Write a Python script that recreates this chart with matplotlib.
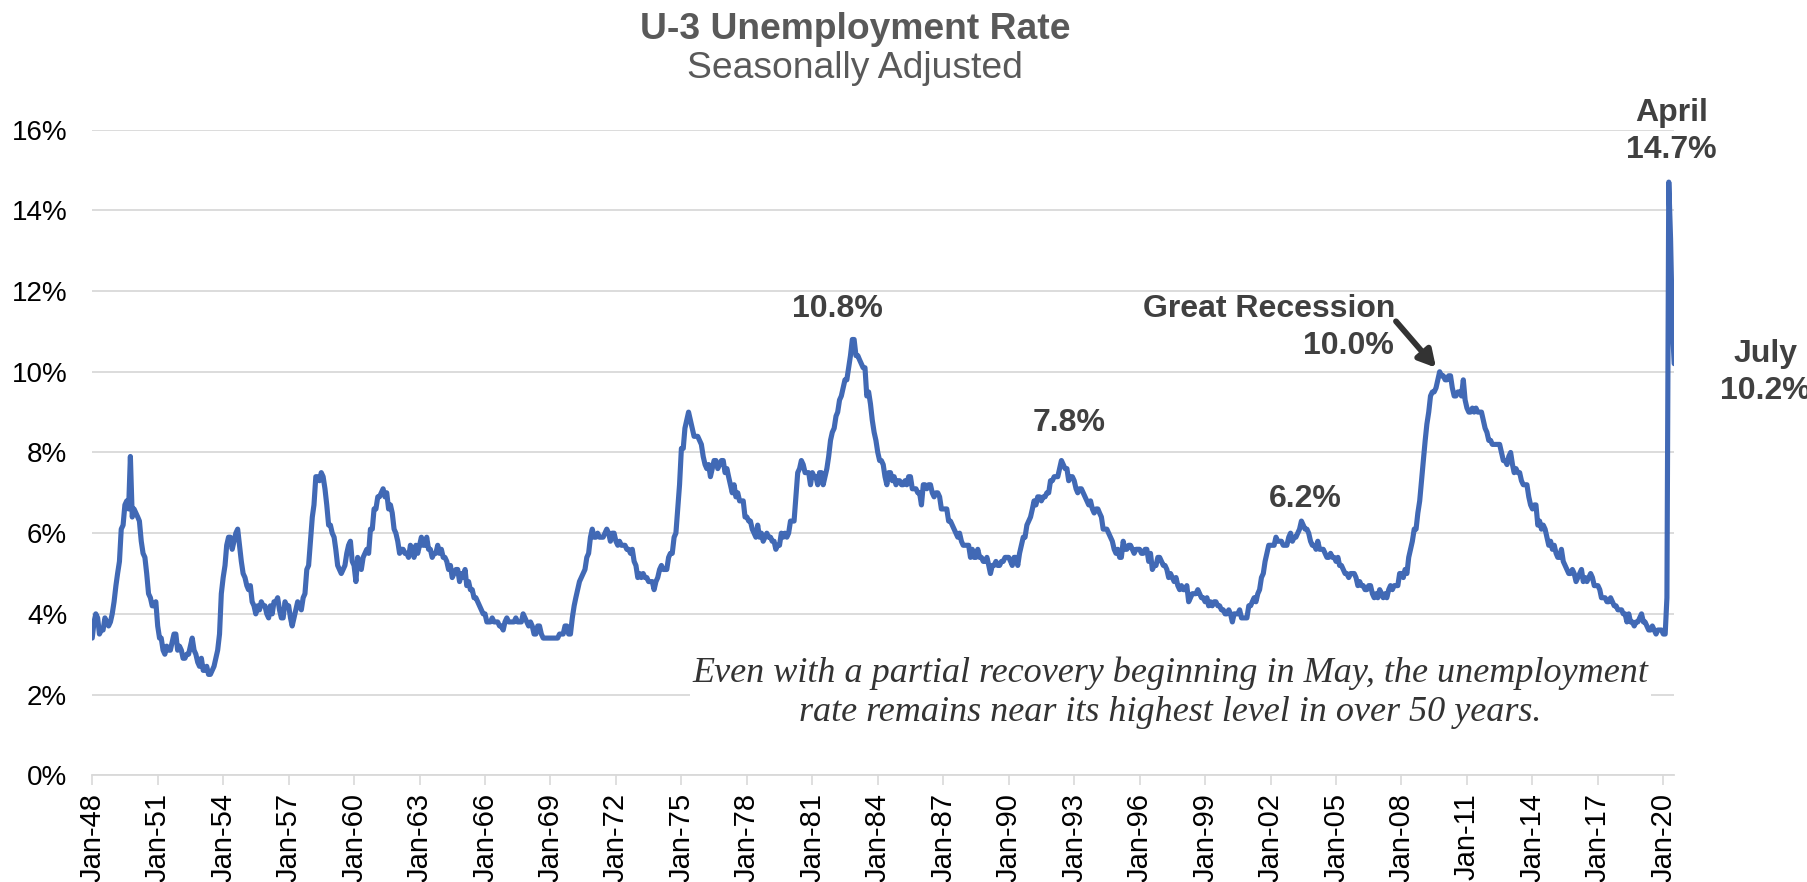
import matplotlib.pyplot as plt
import matplotlib.dates as mdates
import numpy as np
import pandas as pd

# monthly U-3 unemployment rate (%), seasonally adjusted, Jan 1948 - Jul 2020
rate_48_59 = [
    3.4, 3.8, 4.0, 3.9, 3.5, 3.6, 3.6, 3.9, 3.8, 3.7, 3.8, 4.0,
    4.3, 4.7, 5.0, 5.3, 6.1, 6.2, 6.7, 6.8, 6.6, 7.9, 6.4, 6.6,
    6.5, 6.4, 6.3, 5.8, 5.5, 5.4, 5.0, 4.5, 4.4, 4.2, 4.2, 4.3,
    3.7, 3.4, 3.4, 3.1, 3.0, 3.2, 3.1, 3.1, 3.3, 3.5, 3.5, 3.1,
    3.2, 3.1, 2.9, 2.9, 3.0, 3.0, 3.2, 3.4, 3.1, 3.0, 2.8, 2.7,
    2.9, 2.6, 2.6, 2.7, 2.5, 2.5, 2.6, 2.7, 2.9, 3.1, 3.5, 4.5,
    4.9, 5.2, 5.7, 5.9, 5.9, 5.6, 5.8, 6.0, 6.1, 5.7, 5.3, 5.0,
    4.9, 4.7, 4.6, 4.7, 4.3, 4.2, 4.0, 4.2, 4.1, 4.3, 4.2, 4.2,
    4.0, 3.9, 4.2, 4.0, 4.3, 4.3, 4.4, 4.1, 3.9, 3.9, 4.3, 4.2,
    4.2, 3.9, 3.7, 3.9, 4.1, 4.3, 4.2, 4.1, 4.4, 4.5, 5.1, 5.2,
    5.8, 6.4, 6.7, 7.4, 7.4, 7.3, 7.5, 7.4, 7.1, 6.7, 6.2, 6.2,
    6.0, 5.9, 5.6, 5.2, 5.1, 5.0, 5.1, 5.2, 5.5, 5.7, 5.8, 5.3,
]
rate_60_71 = [
    5.2, 4.8, 5.4, 5.2, 5.1, 5.4, 5.5, 5.6, 5.5, 6.1, 6.1, 6.6,
    6.6, 6.9, 6.9, 7.0, 7.1, 6.9, 7.0, 6.6, 6.7, 6.5, 6.1, 6.0,
    5.8, 5.5, 5.6, 5.6, 5.5, 5.5, 5.4, 5.7, 5.6, 5.4, 5.7, 5.5,
    5.7, 5.9, 5.7, 5.7, 5.9, 5.6, 5.6, 5.4, 5.5, 5.5, 5.7, 5.5,
    5.6, 5.4, 5.4, 5.3, 5.1, 5.2, 4.9, 5.0, 5.1, 5.1, 4.8, 5.0,
    4.9, 5.1, 4.7, 4.8, 4.6, 4.6, 4.4, 4.4, 4.3, 4.2, 4.1, 4.0,
    4.0, 3.8, 3.8, 3.8, 3.9, 3.8, 3.8, 3.8, 3.7, 3.7, 3.6, 3.8,
    3.9, 3.8, 3.8, 3.8, 3.8, 3.9, 3.8, 3.8, 3.8, 4.0, 3.9, 3.8,
    3.7, 3.8, 3.7, 3.5, 3.5, 3.7, 3.7, 3.5, 3.4, 3.4, 3.4, 3.4,
    3.4, 3.4, 3.4, 3.4, 3.4, 3.5, 3.5, 3.5, 3.7, 3.7, 3.5, 3.5,
    3.9, 4.2, 4.4, 4.6, 4.8, 4.9, 5.0, 5.1, 5.4, 5.5, 5.9, 6.1,
    5.9, 5.9, 6.0, 5.9, 5.9, 5.9, 6.0, 6.1, 6.0, 5.8, 6.0, 6.0,
]
rate_72_83 = [
    5.8, 5.7, 5.8, 5.7, 5.7, 5.7, 5.6, 5.6, 5.5, 5.6, 5.3, 5.2,
    4.9, 5.0, 4.9, 5.0, 4.9, 4.9, 4.8, 4.8, 4.8, 4.6, 4.8, 4.9,
    5.1, 5.2, 5.1, 5.1, 5.1, 5.4, 5.5, 5.5, 5.9, 6.0, 6.6, 7.2,
    8.1, 8.1, 8.6, 8.8, 9.0, 8.8, 8.6, 8.4, 8.4, 8.4, 8.3, 8.2,
    7.9, 7.7, 7.6, 7.7, 7.4, 7.6, 7.8, 7.8, 7.6, 7.7, 7.8, 7.8,
    7.5, 7.6, 7.4, 7.2, 7.0, 7.2, 6.9, 7.0, 6.8, 6.8, 6.8, 6.4,
    6.4, 6.3, 6.3, 6.1, 6.0, 5.9, 6.2, 5.9, 6.0, 5.8, 5.9, 6.0,
    5.9, 5.9, 5.8, 5.8, 5.6, 5.7, 5.7, 6.0, 5.9, 6.0, 5.9, 6.0,
    6.3, 6.3, 6.3, 6.9, 7.5, 7.6, 7.8, 7.7, 7.5, 7.5, 7.5, 7.2,
    7.5, 7.4, 7.4, 7.2, 7.5, 7.5, 7.2, 7.4, 7.6, 7.9, 8.3, 8.5,
    8.6, 8.9, 9.0, 9.3, 9.4, 9.6, 9.8, 9.8, 10.1, 10.4, 10.8, 10.8,
    10.4, 10.4, 10.3, 10.2, 10.1, 10.1, 9.4, 9.5, 9.2, 8.8, 8.5, 8.3,
]
rate_84_95 = [
    8.0, 7.8, 7.8, 7.7, 7.4, 7.2, 7.5, 7.5, 7.3, 7.4, 7.2, 7.3,
    7.3, 7.2, 7.2, 7.3, 7.2, 7.4, 7.4, 7.1, 7.1, 7.1, 7.0, 7.0,
    6.7, 7.2, 7.2, 7.1, 7.2, 7.2, 7.0, 6.9, 7.0, 7.0, 6.9, 6.6,
    6.6, 6.6, 6.6, 6.3, 6.3, 6.2, 6.1, 6.0, 5.9, 6.0, 5.8, 5.7,
    5.7, 5.7, 5.7, 5.4, 5.6, 5.4, 5.4, 5.6, 5.4, 5.4, 5.3, 5.3,
    5.4, 5.2, 5.0, 5.2, 5.2, 5.3, 5.2, 5.2, 5.3, 5.3, 5.4, 5.4,
    5.4, 5.3, 5.2, 5.4, 5.4, 5.2, 5.5, 5.7, 5.9, 5.9, 6.2, 6.3,
    6.4, 6.6, 6.8, 6.7, 6.9, 6.9, 6.8, 6.9, 6.9, 7.0, 7.0, 7.3,
    7.3, 7.4, 7.4, 7.4, 7.6, 7.8, 7.7, 7.6, 7.6, 7.3, 7.4, 7.4,
    7.3, 7.1, 7.0, 7.1, 7.1, 7.0, 6.9, 6.8, 6.7, 6.8, 6.6, 6.5,
    6.6, 6.6, 6.5, 6.4, 6.1, 6.1, 6.1, 6.0, 5.9, 5.8, 5.6, 5.5,
    5.6, 5.4, 5.4, 5.8, 5.6, 5.6, 5.7, 5.7, 5.6, 5.5, 5.6, 5.6,
]
rate_96_07 = [
    5.6, 5.5, 5.5, 5.6, 5.6, 5.3, 5.5, 5.1, 5.2, 5.2, 5.4, 5.4,
    5.3, 5.2, 5.2, 5.1, 4.9, 5.0, 4.9, 4.8, 4.9, 4.7, 4.6, 4.7,
    4.6, 4.6, 4.7, 4.3, 4.4, 4.5, 4.5, 4.5, 4.6, 4.5, 4.4, 4.4,
    4.3, 4.4, 4.2, 4.3, 4.2, 4.3, 4.3, 4.2, 4.2, 4.1, 4.1, 4.0,
    4.0, 4.1, 4.0, 3.8, 4.0, 4.0, 4.0, 4.1, 3.9, 3.9, 3.9, 3.9,
    4.2, 4.2, 4.3, 4.4, 4.3, 4.5, 4.6, 4.9, 5.0, 5.3, 5.5, 5.7,
    5.7, 5.7, 5.7, 5.9, 5.8, 5.8, 5.8, 5.7, 5.7, 5.7, 5.9, 6.0,
    5.8, 5.9, 5.9, 6.0, 6.1, 6.3, 6.2, 6.1, 6.1, 6.0, 5.8, 5.7,
    5.7, 5.6, 5.8, 5.6, 5.6, 5.6, 5.5, 5.4, 5.4, 5.5, 5.4, 5.4,
    5.3, 5.4, 5.2, 5.2, 5.1, 5.0, 5.0, 4.9, 5.0, 5.0, 5.0, 4.9,
    4.7, 4.8, 4.7, 4.7, 4.6, 4.6, 4.7, 4.7, 4.5, 4.4, 4.5, 4.4,
    4.6, 4.5, 4.4, 4.5, 4.4, 4.6, 4.7, 4.6, 4.7, 4.7, 4.7, 5.0,
]
rate_08_20 = [
    5.0, 4.9, 5.1, 5.0, 5.4, 5.6, 5.8, 6.1, 6.1, 6.5, 6.8, 7.3,
    7.8, 8.3, 8.7, 9.0, 9.4, 9.5, 9.5, 9.6, 9.8, 10.0, 9.9, 9.9,
    9.8, 9.8, 9.9, 9.9, 9.6, 9.4, 9.4, 9.5, 9.5, 9.4, 9.8, 9.3,
    9.1, 9.0, 9.0, 9.1, 9.0, 9.1, 9.0, 9.0, 9.0, 8.8, 8.6, 8.5,
    8.3, 8.3, 8.2, 8.2, 8.2, 8.2, 8.2, 8.0, 7.8, 7.8, 7.7, 7.9,
    8.0, 7.7, 7.5, 7.6, 7.5, 7.5, 7.3, 7.2, 7.2, 7.2, 6.9, 6.7,
    6.6, 6.7, 6.7, 6.2, 6.3, 6.1, 6.2, 6.1, 5.9, 5.7, 5.8, 5.6,
    5.7, 5.5, 5.4, 5.4, 5.6, 5.3, 5.2, 5.1, 5.0, 5.0, 5.1, 5.0,
    4.8, 4.9, 5.0, 5.1, 4.8, 4.9, 4.8, 4.9, 5.0, 4.9, 4.7, 4.7,
    4.7, 4.6, 4.4, 4.4, 4.4, 4.3, 4.3, 4.4, 4.3, 4.2, 4.2, 4.1,
    4.1, 4.1, 4.0, 4.0, 3.8, 4.0, 3.8, 3.8, 3.7, 3.8, 3.8, 3.9,
    4.0, 3.8, 3.8, 3.7, 3.6, 3.6, 3.7, 3.6, 3.5, 3.6, 3.6, 3.6,
    3.5, 3.5, 4.4, 14.7, 13.3, 11.1, 10.2,
]
rate = np.array(rate_48_59 + rate_60_71 + rate_72_83 + rate_84_95 + rate_96_07 + rate_08_20)
months = pd.date_range("1948-01-01", periods=len(rate), freq="MS")

tick_years = list(range(1948, 2021, 3))
y_ticks = [0, 2, 4, 6, 8, 10, 12, 14, 16]

blue = "#4169b5"
grid_c = "#d9d9d9"
label_c = "#404040"

plt.rcParams["font.family"] = ["Liberation Sans", "DejaVu Sans"]

fig = plt.figure(figsize=(18.08, 8.82), dpi=100)
ax = fig.add_axes([0.051, 0.121, 0.875, 0.732])

ax.plot(months, rate, color=blue, lw=3.7, solid_joinstyle="round", solid_capstyle="round", zorder=3)

ax.set_ylim(0, 16)
ax.set_yticks(y_ticks)
ax.set_yticklabels([f"{v}%" for v in y_ticks])
ax.set_xlim(months[0], months[-1])
ax.set_xticks([pd.Timestamp(f"{y}-01-01") for y in tick_years])
ax.xaxis.set_major_formatter(mdates.DateFormatter("Jan-%y"))

ax.grid(axis="y", color=grid_c, lw=1.3)
ax.set_axisbelow(True)
for s in ["top", "right", "left"]:
    ax.spines[s].set_visible(False)
ax.spines["bottom"].set_color(grid_c)
ax.spines["bottom"].set_linewidth(1.3)
ax.tick_params(axis="y", length=0, labelsize=20, pad=18, labelcolor="black")
ax.tick_params(axis="x", length=7, width=1.2, color=grid_c, labelsize=21,
               rotation=90, pad=6, labelcolor="black")

fig.text(0.473, 0.967, "U-3 Unemployment Rate", ha="center", va="center",
         fontsize=26.8, fontweight="bold", color="#595959")
fig.text(0.473, 0.922, "Seasonally Adjusted", ha="center", va="center",
         fontsize=26.8, color="#595959")

bold = dict(fontsize=23, fontweight="bold", color=label_c, ha="center", va="center")
ax.text(pd.Timestamp("1982-03-01"), 11.56, "10.8%", **bold)
ax.text(pd.Timestamp("1992-10-01"), 8.73, "7.8%", **bold)
ax.text(pd.Timestamp("2003-08-01"), 6.85, "6.2%", **bold)
ax.text(pd.Timestamp("2001-12-01"), 11.56, "Great Recession", **bold)
ax.text(pd.Timestamp("2005-08-01"), 10.65, "10.0%", **bold)
ax.annotate("", xy=(pd.Timestamp("2009-08-01"), 10.1), xytext=(pd.Timestamp("2007-10-01"), 11.25),
            arrowprops=dict(arrowstyle="-|>,head_length=1.0,head_width=0.55", color="#333333",
                            lw=4.2, shrinkA=0, shrinkB=0))
ax.text(pd.Timestamp("2020-05-15"), 15.95, "April\n14.7%", linespacing=1.3, clip_on=False, **bold)
ax.text(pd.Timestamp("2024-09-01"), 9.98, "July\n10.2%", linespacing=1.3, clip_on=False, **bold)

ax.text(pd.Timestamp("1997-06-01"), 2.05,
        "Even with a partial recovery beginning in May, the unemployment\nrate remains near its highest level in over 50 years.",
        ha="center", va="center", fontsize=26, style="italic", family="Liberation Serif",
        color="#333333", linespacing=1.22, zorder=4,
        bbox=dict(facecolor="white", edgecolor="none", pad=2))

fig.savefig("out.png", dpi=100)
